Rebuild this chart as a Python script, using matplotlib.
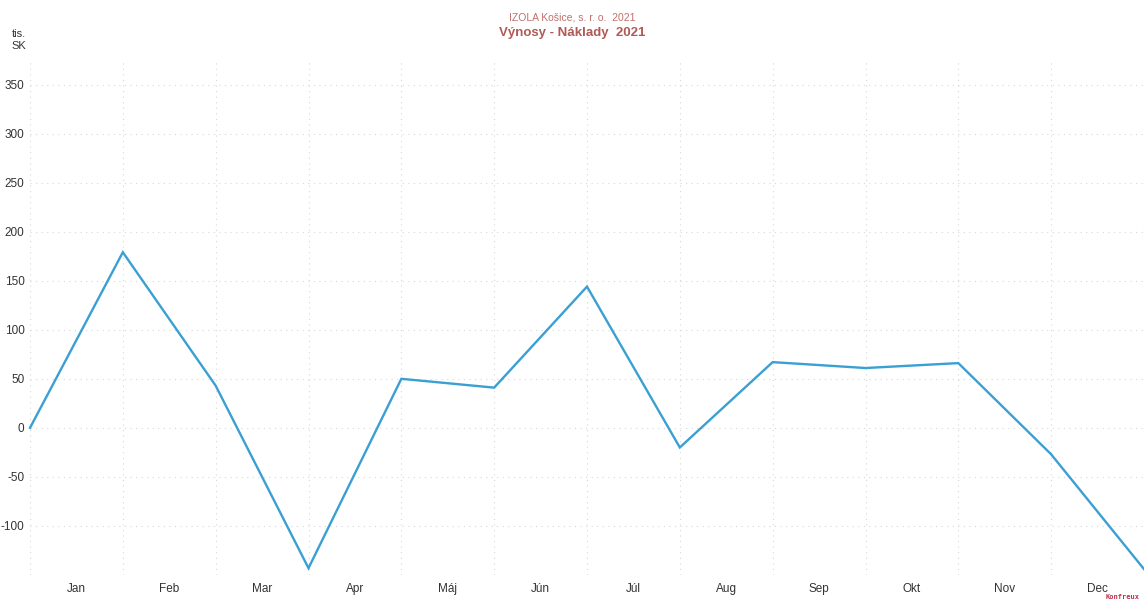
import matplotlib
matplotlib.use("Agg")
import matplotlib.pyplot as plt
import numpy as np

plt.rcParams["font.family"] = ["Liberation Sans", "DejaVu Sans"]

months = ["Jan", "Feb", "Mar", "Apr", "Máj", "Jún", "Júl", "Aug", "Sep", "Okt", "Nov", "Dec"]
# values at month boundaries (13 points)
values = [0, 179, 43, -143, 50, 41, 144, -20, 67, 61, 66, -27, -144]
yticks = [-100, -50, 0, 50, 100, 150, 200, 250, 300, 350]

W, H = 1144, 603
fig = plt.figure(figsize=(W / 100, H / 100), dpi=100)
ax = fig.add_axes([30 / W, 1 - 575 / H, (1144 - 30) / W, (575 - 60) / H])

x = np.arange(len(values))
ax.plot(x, values, color="#3a9fd2", lw=1.7, solid_joinstyle="miter", clip_on=False, zorder=3)

ax.set_xlim(0, 12)
ax.set_ylim(-150, 375)

# grid
for xv in range(0, 13):
    ax.axvline(xv, color="#d8d8d8", lw=0.8, ls=(0, (1, 4)), zorder=1)
for yv in list(range(-150, 351, 50)):
    ax.axhline(yv, color="#d8d8d8", lw=0.8, ls=(0, (1, 4)), zorder=1)

for s in ax.spines.values():
    s.set_visible(False)

ax.set_yticks(yticks)
ax.set_yticklabels([str(v) for v in yticks], fontsize=8.5, color="#333333")
ax.set_xticks(x[:-1] + 0.5)
ax.set_xticklabels(months, fontsize=8.5, color="#333333")
ax.tick_params(length=0, pad=6)
ax.tick_params(axis="y", pad=4)

fig.text(26 / W, 1 - 40 / H, "tis.\nSK", ha="right", va="center", fontsize=8,
         color="#333333", linespacing=1.2)

fig.text(572 / W, 1 - 17 / H, "IZOLA Košice, s. r. o.  2021", ha="center", va="center",
         fontsize=7.5, color="#c0706a")
fig.text(572 / W, 1 - 33 / H, "Výnosy - Náklady  2021", ha="center", va="center",
         fontsize=9.5, fontweight="bold", color="#b05a55")

fig.text(1106 / W, 1 - 600 / H, "Konfreux", ha="left", va="bottom", fontsize=5,
         color="#c03050", family="DejaVu Sans Mono", fontweight="bold")

fig.savefig("out.png", dpi=100, facecolor="white")
